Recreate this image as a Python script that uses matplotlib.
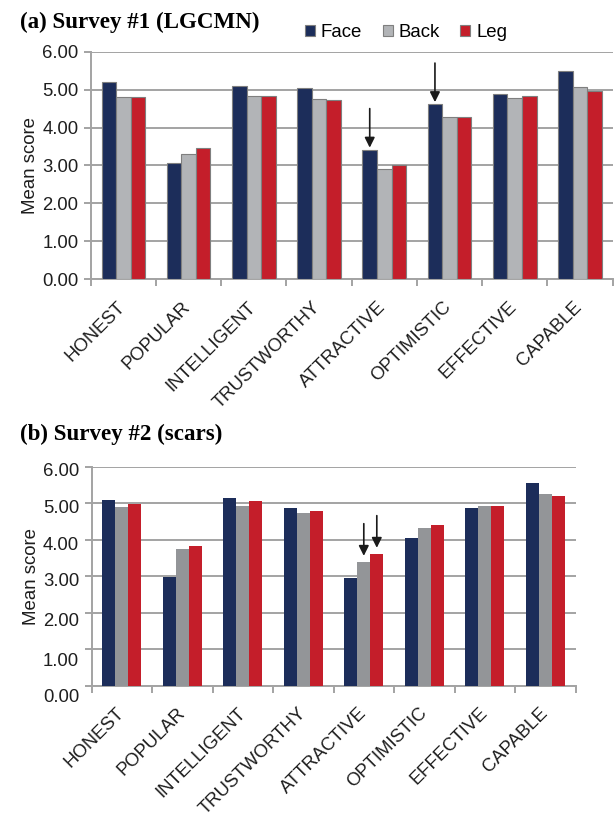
import matplotlib
matplotlib.use("Agg")
import matplotlib.pyplot as plt
import matplotlib.transforms as mtransforms
import numpy as np
from matplotlib.patches import Patch

categories = ["HONEST", "POPULAR", "INTELLIGENT", "TRUSTWORTHY",
              "ATTRACTIVE", "OPTIMISTIC", "EFFECTIVE", "CAPABLE"]
series_names = ["Face", "Back", "Leg"]

s1_face = [5.20, 3.07, 5.10, 5.04, 3.42, 4.62, 4.89, 5.48]
s1_back = [4.81, 3.31, 4.84, 4.76, 2.90, 4.27, 4.77, 5.08]
s1_leg = [4.81, 3.47, 4.84, 4.73, 3.00, 4.27, 4.83, 4.96]

s2_face = [5.09, 2.99, 5.14, 4.86, 2.95, 4.04, 4.88, 5.56]
s2_back = [4.91, 3.75, 4.93, 4.73, 3.38, 4.31, 4.92, 5.26]
s2_leg = [4.99, 3.83, 5.06, 4.80, 3.60, 4.41, 4.93, 5.21]

yticks = [0, 1, 2, 3, 4, 5, 6]

plt.rcParams['font.family'] = ['Liberation Sans', 'DejaVu Sans']

c_face = "#1c2d5a"
c_back_a = "#b2b4b7"
c_back_b = "#939598"
c_leg = "#c41e2a"
grid_c = "#a3a3a3"
txt_c = "#1e1e1e"

fig = plt.figure(figsize=(6.14, 8.18), dpi=100)


def shift(label, dx_px, dy_px):
    label.set_transform(label.get_transform() +
                        mtransforms.ScaledTranslation(dx_px / 100.0, dy_px / 100.0,
                                                      fig.dpi_scale_trans))


def draw(ax, face, back, leg, back_c, edge, w, xshift):
    x = np.arange(len(categories))
    kw = dict(edgecolor=edge, linewidth=0.8 if edge != "none" else 0, zorder=3)
    ax.bar(x - w, face, w, color=c_face, **kw)
    ax.bar(x, back, w, color=back_c, **kw)
    ax.bar(x + w, leg, w, color=c_leg, **kw)
    ax.set_xlim(-0.5, len(categories) - 0.5)
    ax.set_ylim(0, 6)
    ax.set_yticks(yticks)
    ax.set_yticklabels([f"{v:.2f}" for v in yticks], fontsize=13.3, color=txt_c)
    ax.yaxis.grid(True, color=grid_c, linewidth=1.4, zorder=0)
    ax.set_axisbelow(True)
    ax.set_xticks(x)
    ax.set_xticklabels(categories, rotation=45, ha="right", rotation_mode="anchor",
                       fontsize=13.3, color=txt_c)
    ax.tick_params(axis="x", which="major", length=0, pad=11)
    ax.set_xticks(np.arange(len(categories) + 1) - 0.5, minor=True)
    ax.tick_params(axis="x", which="minor", length=5, color=grid_c, width=1.4)
    ax.tick_params(axis="y", length=5, color=grid_c, width=1.4, pad=4)
    for s in ["top", "right"]:
        ax.spines[s].set_visible(False)
    for s in ["left", "bottom"]:
        ax.spines[s].set_color(grid_c)
        ax.spines[s].set_linewidth(1.4)
    ax.set_ylabel("Mean score", fontsize=13.4, color=txt_c, labelpad=2)
    for lab in ax.get_xticklabels():
        shift(lab, xshift[0], xshift[1])
    return x


w1 = 0.223
ax1 = fig.add_axes([0.1479, 0.6586, 0.8497, 0.2782])
x = draw(ax1, s1_face, s1_back, s1_leg, c_back_a, "#7f7f7f", w1, (-7, -4))
for i in [4, 5]:
    ax1.annotate("", xy=(x[i] - w1, s1_face[i] + 0.05), xytext=(x[i] - w1, s1_face[i] + 1.08),
                 arrowprops=dict(arrowstyle="-|>", color="#1a1a1a", lw=1.2,
                                 mutation_scale=15, shrinkA=0, shrinkB=0), zorder=5)

w2 = 0.215
ax2 = fig.add_axes([0.1492, 0.1614, 0.7881, 0.2681])
x = draw(ax2, s2_face, s2_back, s2_leg, c_back_b, "none", w2, (-6, -3))
for off, vals in [(0, s2_back), (w2, s2_leg)]:
    i = 4
    ax2.annotate("", xy=(x[i] + off, vals[i] + 0.18), xytext=(x[i] + off, vals[i] + 1.06),
                 arrowprops=dict(arrowstyle="-|>", color="#1a1a1a", lw=1.2,
                                 mutation_scale=15, shrinkA=0, shrinkB=0), zorder=5)
# panel (b) value labels sit slightly below their gridlines in the original
shift_px = [10, 10, 6.7, 3.3, 3.3, 3.3, 3.3]
for lab, dy in zip(ax2.get_yticklabels(), shift_px):
    shift(lab, 0, -dy)

fig.text(0.0324, 0.973, "(a) Survey #1 (LGCMN)", fontsize=16.6, fontweight="bold",
         family="Liberation Serif", va="center", ha="left")
fig.text(0.0324, 0.4694, "(b) Survey #2 (scars)", fontsize=16.6, fontweight="bold",
         family="Liberation Serif", va="center", ha="left")

handles = [Patch(facecolor=c_face, edgecolor="#7f7f7f", lw=0.8),
           Patch(facecolor=c_back_a, edgecolor="#7f7f7f", lw=0.8),
           Patch(facecolor=c_leg, edgecolor="#7f7f7f", lw=0.8)]
fig.legend(handles, series_names, loc="center left", bbox_to_anchor=(0.4967, 0.9605),
           ncol=3, frameon=False, fontsize=13.4, handlelength=0.55, handleheight=0.55,
           handletextpad=0.3, columnspacing=1.1, borderaxespad=0, borderpad=0)

fig.savefig("out.png", dpi=100)
